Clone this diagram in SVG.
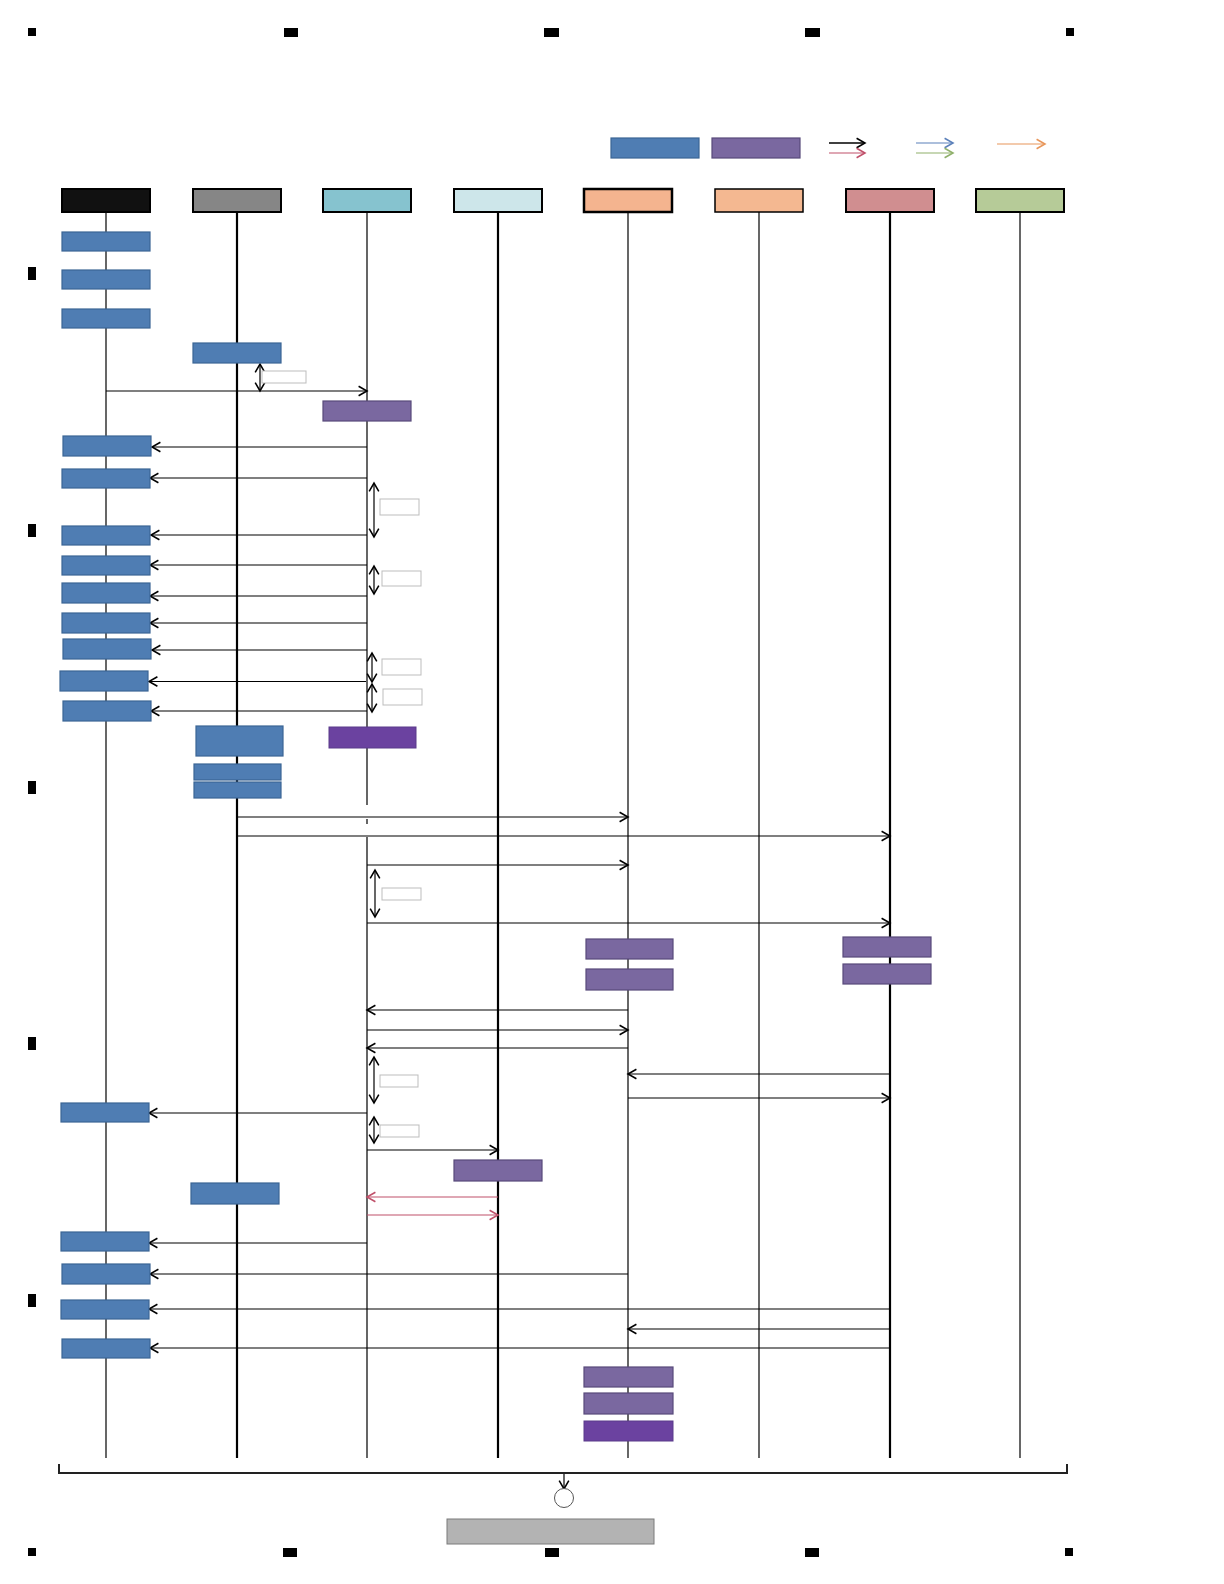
<svg xmlns="http://www.w3.org/2000/svg" width="1224" height="1584" viewBox="0 0 1224 1584">
<style>
.hdr{stroke:#000;stroke-width:2}
.blue{fill:#4f7db3;stroke:#3b6594;stroke-width:1.2}
.purp{fill:#7a68a0;stroke:#584a7a;stroke-width:1.2}
.dpurp{fill:#6b42a0;stroke:#5a3a8a;stroke-width:1}
.life{stroke:#000;stroke-width:1.2;fill:none}
.lifeT{stroke:#000;stroke-width:2.2;fill:none}
.msg{stroke:#000;stroke-width:1.2;fill:none;marker-end:url(#ah)}
.red{stroke:#c0506a;stroke-width:1.1;fill:none;marker-end:url(#ahr)}
.dbl{stroke:#000;stroke-width:1.2;fill:none;marker-start:url(#ah);marker-end:url(#ah)}
.lbl{fill:#fff;stroke:#bdbdbd;stroke-width:1}
.mark{fill:#000}
</style>
<defs>
<marker id="ah" markerUnits="userSpaceOnUse" markerWidth="12" markerHeight="12" refX="8" refY="5" orient="auto-start-reverse" viewBox="0 0 10 10"><path d="M1,1 L8,5 L1,9" fill="none" stroke="#000" stroke-width="1.3"/></marker>
<marker id="ahr" markerUnits="userSpaceOnUse" markerWidth="12" markerHeight="12" refX="8" refY="5" orient="auto" viewBox="0 0 10 10"><path d="M1,1 L8,5 L1,9" fill="none" stroke="#c0506a" stroke-width="1.3"/></marker>
<marker id="ahb" markerUnits="userSpaceOnUse" markerWidth="12" markerHeight="12" refX="8" refY="5" orient="auto" viewBox="0 0 10 10"><path d="M1,1 L8,5 L1,9" fill="none" stroke="#5b80ba" stroke-width="1.3"/></marker>
<marker id="ahg" markerUnits="userSpaceOnUse" markerWidth="12" markerHeight="12" refX="8" refY="5" orient="auto" viewBox="0 0 10 10"><path d="M1,1 L8,5 L1,9" fill="none" stroke="#8fb06a" stroke-width="1.3"/></marker>
<marker id="aho" markerUnits="userSpaceOnUse" markerWidth="12" markerHeight="12" refX="8" refY="5" orient="auto" viewBox="0 0 10 10"><path d="M1,1 L8,5 L1,9" fill="none" stroke="#e8965a" stroke-width="1.3"/></marker>
</defs>
<rect width="1224" height="1584" fill="#fff"/>

<g id="marks">
<rect class="mark" x="28" y="28" width="8" height="8"/>
<rect class="mark" x="284" y="28" width="14" height="9"/>
<rect class="mark" x="544" y="28" width="15" height="9"/>
<rect class="mark" x="805" y="28" width="15" height="9"/>
<rect class="mark" x="1066" y="28" width="8" height="8"/>
<rect class="mark" x="28" y="267" width="8" height="13"/>
<rect class="mark" x="28" y="524" width="8" height="13"/>
<rect class="mark" x="28" y="781" width="8" height="13"/>
<rect class="mark" x="28" y="1037" width="8" height="13"/>
<rect class="mark" x="28" y="1294" width="8" height="13"/>
<rect class="mark" x="28" y="1548" width="8" height="8"/>
<rect class="mark" x="283" y="1548" width="14" height="9"/>
<rect class="mark" x="545" y="1548" width="14" height="9"/>
<rect class="mark" x="805" y="1548" width="14" height="9"/>
<rect class="mark" x="1065" y="1548" width="8" height="8"/>
</g>

<g id="legend">
<rect class="blue" x="611" y="138" width="88" height="20"/>
<rect class="purp" x="712" y="138" width="88" height="20"/>
<line x1="829" y1="143" x2="865" y2="143" stroke="#000" stroke-width="1.3" marker-end="url(#ah)"/>
<line x1="829" y1="153" x2="865" y2="153" stroke="#c0506a" stroke-width="1.2" marker-end="url(#ahr)"/>
<line x1="916" y1="143" x2="953" y2="143" stroke="#5b80ba" stroke-width="1.2" marker-end="url(#ahb)"/>
<line x1="916" y1="153" x2="953" y2="153" stroke="#8fb06a" stroke-width="1.2" marker-end="url(#ahg)"/>
<line x1="997" y1="144" x2="1045" y2="144" stroke="#e8965a" stroke-width="1.2" marker-end="url(#aho)"/>
</g>

<g id="lifelines">
<line class="life" x1="106" y1="212" x2="106" y2="1458"/>
<line class="lifeT" x1="237" y1="212" x2="237" y2="1458"/>
<path class="life" d="M367,212 V805 M367,819 V824 M367,837 V1458"/>
<line class="lifeT" x1="498" y1="212" x2="498" y2="1458"/>
<line class="life" x1="628" y1="212" x2="628" y2="1458"/>
<line class="life" x1="759" y1="212" x2="759" y2="1458"/>
<line class="lifeT" x1="890" y1="212" x2="890" y2="1458"/>
<line class="life" x1="1020" y1="212" x2="1020" y2="1458"/>
</g>

<g id="headers">
<rect id="h1" class="hdr" x="62" y="189" width="88" height="23" fill="#111"/>
<rect id="h2" class="hdr" x="193" y="189" width="88" height="23" fill="#868686"/>
<rect id="h3" class="hdr" x="323" y="189" width="88" height="23" fill="#86c3cf"/>
<rect id="h4" class="hdr" x="454" y="189" width="88" height="23" fill="#cde6ea"/>
<rect id="h5" x="584" y="189" width="88" height="23" fill="#f4b48f" stroke="#000" stroke-width="2.5"/>
<rect id="h6" x="715" y="189" width="88" height="23" fill="#f4b891" stroke="#000" stroke-width="1.5"/>
<rect id="h7" class="hdr" x="846" y="189" width="88" height="23" fill="#d08e90"/>
<rect id="h8" class="hdr" x="976" y="189" width="88" height="23" fill="#b6cb98"/>
</g>

<g id="connectors">
<line class="msg" x1="106" y1="391" x2="367" y2="391"/>
<line class="msg" x1="367" y1="447" x2="152" y2="447"/>
<line class="msg" x1="367" y1="478" x2="150" y2="478"/>
<line class="msg" x1="367" y1="535" x2="151" y2="535"/>
<line class="msg" x1="367" y1="565" x2="150" y2="565"/>
<line class="msg" x1="367" y1="596" x2="150" y2="596"/>
<line class="msg" x1="367" y1="623" x2="150" y2="623"/>
<line class="msg" x1="367" y1="650" x2="152" y2="650"/>
<line class="msg" x1="366" y1="681.5" x2="149" y2="681.5"/>
<line class="msg" x1="367" y1="711" x2="151" y2="711"/>
<line class="msg" x1="237" y1="817" x2="628" y2="817"/>
<line class="msg" x1="237" y1="836" x2="890" y2="836"/>
<line class="msg" x1="367" y1="865" x2="628" y2="865"/>
<line class="msg" x1="367" y1="923" x2="890" y2="923"/>
<line class="msg" x1="628" y1="1010" x2="367" y2="1010"/>
<line class="msg" x1="367" y1="1030" x2="628" y2="1030"/>
<line class="msg" x1="628" y1="1048" x2="367" y2="1048"/>
<line class="msg" x1="890" y1="1074" x2="628" y2="1074"/>
<line class="msg" x1="628" y1="1098" x2="890" y2="1098"/>
<line class="msg" x1="367" y1="1113" x2="149" y2="1113"/>
<line class="msg" x1="367" y1="1150" x2="498" y2="1150"/>
<line class="red" x1="498" y1="1197" x2="367" y2="1197"/>
<line class="red" x1="367" y1="1215" x2="498" y2="1215"/>
<line class="msg" x1="367" y1="1243" x2="149" y2="1243"/>
<line class="msg" x1="628" y1="1274" x2="150" y2="1274"/>
<line class="msg" x1="890" y1="1309" x2="149" y2="1309"/>
<line class="msg" x1="890" y1="1329" x2="628" y2="1329"/>
<line class="msg" x1="890" y1="1348" x2="150" y2="1348"/>
<line class="dbl" x1="260" y1="364" x2="260" y2="391"/>
<line class="dbl" x1="374" y1="483" x2="374" y2="537"/>
<line class="dbl" x1="374" y1="566" x2="374" y2="594"/>
<line class="dbl" x1="372" y1="653" x2="372" y2="682"/>
<line class="dbl" x1="372" y1="684" x2="372" y2="712"/>
<line class="dbl" x1="375" y1="870" x2="375" y2="917"/>
<line class="dbl" x1="374" y1="1057" x2="374" y2="1103"/>
<line class="dbl" x1="374" y1="1117" x2="374" y2="1143"/>
<path d="M59,1464 V1473 H1067 V1464" fill="none" stroke="#222" stroke-width="2"/>
<line class="msg" x1="564" y1="1474" x2="564" y2="1489"/>
</g>

<g id="labels">
<rect class="lbl" x="262" y="371" width="44" height="12"/>
<rect class="lbl" x="380" y="499" width="39" height="16"/>
<rect class="lbl" x="382" y="571" width="39" height="15"/>
<rect class="lbl" x="382" y="659" width="39" height="16"/>
<rect class="lbl" x="383" y="689" width="39" height="16"/>
<rect class="lbl" x="382" y="888" width="39" height="12"/>
<rect class="lbl" x="380" y="1075" width="38" height="12"/>
<rect class="lbl" x="380" y="1125" width="39" height="12"/>
</g>

<g id="blue-nodes">
<rect id="b1" class="blue" x="62" y="232" width="88" height="19"/>
<rect id="b2" class="blue" x="62" y="270" width="88" height="19"/>
<rect id="b3" class="blue" x="62" y="309" width="88" height="19"/>
<rect id="b4" class="blue" x="193" y="343" width="88" height="20"/>
<rect id="b5" class="blue" x="63" y="436" width="88" height="20"/>
<rect id="b6" class="blue" x="62" y="469" width="88" height="19"/>
<rect id="b7" class="blue" x="62" y="526" width="88" height="19"/>
<rect id="b8" class="blue" x="62" y="556" width="88" height="19"/>
<rect id="b9" class="blue" x="62" y="583" width="88" height="20"/>
<rect id="b10" class="blue" x="62" y="613" width="88" height="20"/>
<rect id="b11" class="blue" x="63" y="639" width="88" height="20"/>
<rect id="b12" class="blue" x="60" y="671" width="88" height="20"/>
<rect id="b13" class="blue" x="63" y="701" width="88" height="20"/>
<rect id="b14" class="blue" x="196" y="726" width="87" height="30"/>
<rect id="b15" class="blue" x="194" y="764" width="87" height="16"/>
<rect id="b16" class="blue" x="194" y="782" width="87" height="16"/>
<rect id="b17" class="blue" x="61" y="1103" width="88" height="19"/>
<rect id="b18" class="blue" x="191" y="1183" width="88" height="21"/>
<rect id="b19" class="blue" x="61" y="1232" width="88" height="19"/>
<rect id="b20" class="blue" x="62" y="1264" width="88" height="20"/>
<rect id="b21" class="blue" x="61" y="1300" width="88" height="19"/>
<rect id="b22" class="blue" x="62" y="1339" width="88" height="19"/>
</g>

<g id="purple-nodes">
<rect id="p1" class="purp" x="323" y="401" width="88" height="20"/>
<rect id="p2" class="dpurp" x="329" y="727" width="87" height="21"/>
<rect id="p3" class="purp" x="586" y="939" width="87" height="20"/>
<rect id="p4" class="purp" x="586" y="969" width="87" height="21"/>
<rect id="p5" class="purp" x="843" y="937" width="88" height="20"/>
<rect id="p6" class="purp" x="843" y="964" width="88" height="20"/>
<rect id="p7" class="purp" x="454" y="1160" width="88" height="21"/>
<rect id="p8" class="purp" x="584" y="1367" width="89" height="20"/>
<rect id="p9" class="purp" x="584" y="1393" width="89" height="21"/>
<rect id="p10" class="dpurp" x="584" y="1421" width="89" height="20"/>
</g>

<g id="end">
<circle cx="564" cy="1498" r="9.5" fill="#fff" stroke="#555" stroke-width="1"/>
<rect x="447" y="1519" width="207" height="25" fill="#b3b3b3" stroke="#7a7a7a" stroke-width="1"/>
</g>
</svg>
